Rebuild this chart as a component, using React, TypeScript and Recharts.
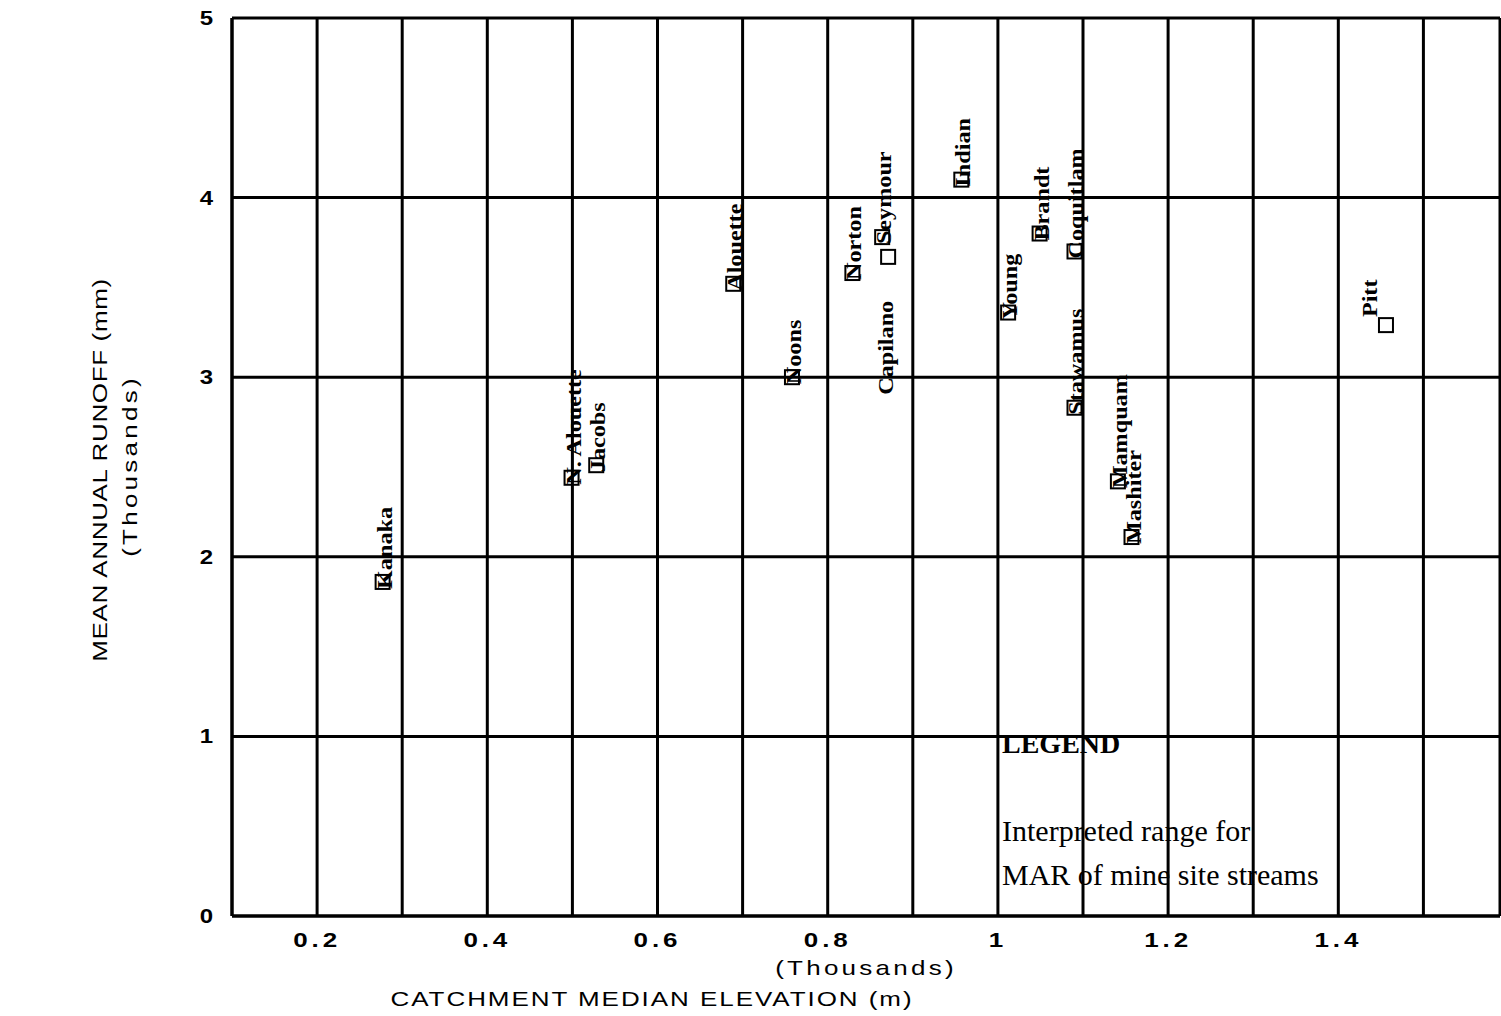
import { ScatterChart, Scatter, XAxis, YAxis, CartesianGrid } from 'recharts';

// catchment median elevation (thousands of m) vs mean annual runoff (thousands of mm)
const streams = ['Kanaka', 'N. Alouette', 'Jacobs', 'Alouette', 'Noons', 'Norton', 'Seymour', 'Capilano',
  'Indian', 'Young', 'Brandt', 'Coquitlam', 'Stawamus', 'Mamquam', 'Mashiter', 'Pitt'];
const elevation = [0.277, 0.499, 0.528, 0.689, 0.758, 0.829, 0.864, 0.871,
  0.957, 1.012, 1.049, 1.09, 1.09, 1.141, 1.157, 1.456];
const runoff = [1.86, 2.44, 2.51, 3.52, 3.0, 3.58, 3.78, 3.67,
  4.1, 3.36, 3.8, 3.7, 2.83, 2.42, 2.11, 3.29];

const xGrid = [0.1, 0.2, 0.3, 0.4, 0.5, 0.6, 0.7, 0.8, 0.9, 1.0, 1.1, 1.2, 1.3, 1.4, 1.5];
const xTickValues = [0.2, 0.4, 0.6, 0.8, 1.0, 1.2, 1.4];
const xTickLabels = ['0.2', '0.4', '0.6', '0.8', '1', '1.2', '1.4'];
const yTicks = [0, 1, 2, 3, 4, 5];

const data = streams.map((name, i) => ({ name, x: elevation[i], y: runoff[i] }));

// a couple of labels sit away from their marker in the original
const labelOffset: Record<string, [number, number]> = {
  Capilano: [5, 138],
  Pitt: [-9, -8],
};

const plotter = '"Liberation Sans", Arial, sans-serif';
const serif = '"Liberation Serif", "Times New Roman", serif';

function fmtX(v: number) {
  const i = xTickValues.findIndex(t => Math.abs(t - v) < 1e-6);
  return i >= 0 ? xTickLabels[i] : '';
}

// wide plotter-style tick text
function XTick(props: any) {
  const { x, y, payload } = props;
  const s = fmtX(payload.value);
  if (!s) return null;
  return (
    <text transform={`translate(${x},${y + 14}) scale(1.3,1)`} textAnchor="middle" fontFamily={plotter}
      fontSize={20} fontWeight="bold" letterSpacing={3} fill="#000">{s}</text>
  );
}

function YTick(props: any) {
  const { x, y, payload } = props;
  return (
    <text transform={`translate(${x},${y + 7}) scale(1.2,1)`} textAnchor="end" fontFamily={plotter}
      fontSize={20} fontWeight="bold" fill="#000">{payload.value}</text>
  );
}

function StreamMark(props: any) {
  const { cx, cy, payload } = props;
  const [dx, dy] = labelOffset[payload.name] || [9, 7];
  return (
    <g>
      <rect x={cx - 7} y={cy - 7} width={14} height={14} fill="none" stroke="#000" strokeWidth={2} />
      <text
        transform={`translate(${cx + dx},${cy + dy}) rotate(-90) scale(1.1,1)`}
        fontFamily={serif}
        fontWeight="bold"
        fontSize={22}
        fill="#000"
      >
        {payload.name}
      </text>
    </g>
  );
}

export default function App() {
  return (
    <div style={{ position: 'absolute', left: 0, top: 0, width: 1501, height: 1016, background: '#fff' }}>
      <ScatterChart width={1501} height={1016} margin={{ top: 18, right: 1, left: 172, bottom: 60 }}>
        <CartesianGrid stroke="#000" strokeWidth={3} />
        <XAxis
          type="number"
          dataKey="x"
          domain={[0.1, 1.59]}
          ticks={xGrid}
          tickFormatter={fmtX}
          allowDataOverflow
          height={40}
          tickLine={false}
          tickSize={0}
          tickMargin={17}
          axisLine={{ stroke: '#000', strokeWidth: 3 }}
          tick={<XTick />}
        />
        <YAxis
          type="number"
          dataKey="y"
          domain={[0, 5]}
          ticks={yTicks}
          width={60}
          tickLine={false}
          tickSize={0}
          tickMargin={19}
          axisLine={{ stroke: '#000', strokeWidth: 3 }}
          tick={<YTick />}
        />
        <Scatter data={data} shape={StreamMark} isAnimationActive={false} />
      </ScatterChart>

      {/* axis titles and the legend note */}
      <svg width={1501} height={1016} style={{ position: 'absolute', left: 0, top: 0, pointerEvents: 'none' }}>
        <g fontFamily={plotter} fontSize={20} fill="#000" textAnchor="middle">
          <text transform="translate(107,470) rotate(-90) scale(1.3,1)" letterSpacing={0.5}>MEAN ANNUAL RUNOFF (mm)</text>
          <text transform="translate(137,466) rotate(-90) scale(1.3,1)" letterSpacing={2.5}>(Thousands)</text>
          <text transform="translate(866,975) scale(1.3,1)" letterSpacing={2.5}>(Thousands)</text>
          <text transform="translate(652,1006) scale(1.3,1)" letterSpacing={1.5}>CATCHMENT MEDIAN ELEVATION (m)</text>
        </g>
        <g fontFamily={serif} fill="#000">
          <text x={1002} y={753} fontSize={28} fontWeight="bold">LEGEND</text>
          <text x={1002} y={841} fontSize={30}>Interpreted range for</text>
          <text x={1002} y={885} fontSize={30}>MAR of mine site streams</text>
        </g>
      </svg>
    </div>
  );
}
